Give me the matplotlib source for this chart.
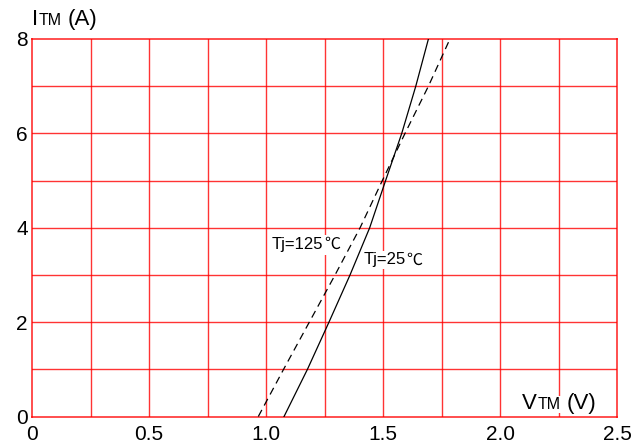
import matplotlib.pyplot as plt

plt.rcParams['font.family'] = ['Liberation Sans', 'Noto Sans CJK SC', 'DejaVu Sans']

# Forward current ITM (A) at each point
itm = [0, 1, 2, 3, 4, 5, 6, 7, 8]
# Forward voltage VTM (V)
vtm_25 = [1.077, 1.177, 1.269, 1.359, 1.443, 1.511, 1.580, 1.640, 1.694]
vtm_125 = [0.967, 1.075, 1.185, 1.295, 1.402, 1.497, 1.594, 1.694, 1.786]

x_ticks = [0, 0.5, 1.0, 1.5, 2.0, 2.5]
x_labels = ['0', '0.5', '1.0', '1.5', '2.0', '2.5']
y_ticks = [0, 2, 4, 6, 8]

fig = plt.figure(figsize=(6.43, 4.45), dpi=100)
ax = fig.add_axes([0.0498, 0.064, 0.9098, 0.8484])

# red grid every 0.25 V and 1 A
for gx in [i * 0.25 for i in range(1, 10)]:
    ax.axvline(gx, color='red', lw=1.0, alpha=0.8, zorder=1)
for gy in range(1, 8):
    ax.axhline(gy, color='red', lw=1.0, alpha=0.8, zorder=1)
for s in ax.spines.values():
    s.set_color('red')
    s.set_alpha(0.75)
    s.set_linewidth(1.3)

ax.plot(vtm_25, itm, color='black', lw=0.9, zorder=3)
ax.plot(vtm_125, itm, color='black', lw=0.9, ls=(0, (6, 4)), zorder=3)

ax.set_xlim(0, 2.5)
ax.set_ylim(0, 8)
ax.set_xticks(x_ticks)
ax.set_xticklabels(x_labels)
ax.set_yticks(y_ticks)
ax.tick_params(length=0, labelsize=15)
ax.tick_params(axis='x', pad=6)
ax.tick_params(axis='y', pad=3)

box = dict(facecolor='white', edgecolor='none', pad=1)
cjk = ['Noto Sans CJK SC']

# curve labels, the degree sign drawn in the CJK face like the original
t1 = ax.text(1.026, 3.64, 'Tj=125', fontsize=12, ha='left', va='center', bbox=box, zorder=4)
ax.annotate('\u2103', xy=(1, 0.5), xycoords=t1, xytext=(0.5, 0),
            textcoords='offset points', fontsize=11.5, family=cjk,
            ha='left', va='center', bbox=box, zorder=4)
t2 = ax.text(1.415, 3.32, 'Tj=25', fontsize=12, ha='left', va='center', bbox=box, zorder=4)
ax.annotate('\u2103', xy=(1, 0.5), xycoords=t2, xytext=(0.5, 0),
            textcoords='offset points', fontsize=11.5, family=cjk,
            ha='left', va='center', bbox=box, zorder=4)

# axis titles: big letter, smaller "TM", then the unit
ax.annotate('I', xy=(0, 1), xycoords='axes fraction', xytext=(0.3, 10),
            textcoords='offset points', fontsize=16, ha='left', va='baseline')
ax.annotate('TM', xy=(0, 1), xycoords='axes fraction', xytext=(4.6, 10),
            textcoords='offset points', fontsize=11.5, ha='left', va='baseline')
ax.annotate('(A)', xy=(0, 1), xycoords='axes fraction', xytext=(25.5, 10),
            textcoords='offset points', fontsize=16, ha='left', va='baseline')

ax.text(2.095, 0.16, 'V', fontsize=16, ha='left', va='baseline', bbox=box, zorder=4)
ax.annotate('TM', xy=(2.095, 0.16), xycoords='data', xytext=(11, 0),
            textcoords='offset points', fontsize=11.5, ha='left', va='baseline',
            bbox=box, zorder=4)
ax.annotate('(V)', xy=(2.095, 0.16), xycoords='data', xytext=(32, 0),
            textcoords='offset points', fontsize=16, ha='left', va='baseline',
            bbox=box, zorder=4)

fig.savefig('out.png', dpi=100)
